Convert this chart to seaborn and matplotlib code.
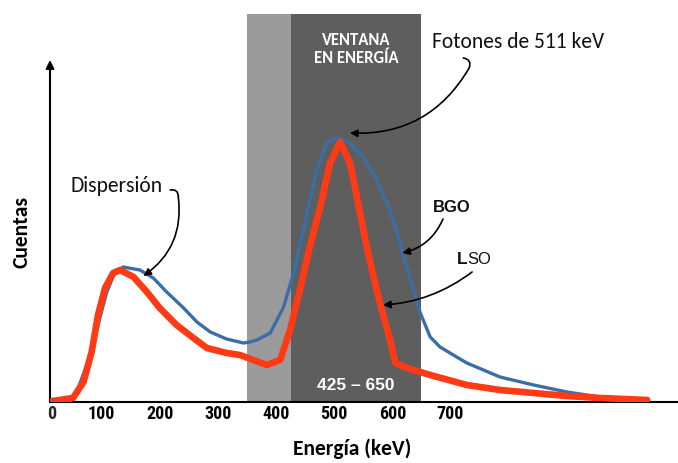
import matplotlib
matplotlib.use("Agg")
import matplotlib.pyplot as plt
import seaborn as sns
import pandas as pd

# ---------------- data ----------------
energy_lso = [15, 28, 51, 69, 83, 94, 106, 120, 132, 155, 178, 200, 229, 258, 281,
              315, 338, 361, 384, 407, 424, 441, 458, 476, 493, 510, 527, 539, 550,
              562, 573, 585, 596, 605, 625, 665, 728, 785, 843, 900, 957, 1038]
counts_lso = [1, 2, 4, 20, 50, 87, 114, 129, 132, 125, 110, 94, 77, 64, 54,
              49, 47, 42, 37, 42, 72, 112, 155, 195, 239, 260, 239, 205, 172,
              139, 112, 85, 62, 39, 34, 27, 17, 12, 9, 6, 4, 2]

energy_bgo = [15, 46, 60, 84, 97, 109, 121, 137, 166, 189, 212, 241, 264, 287, 315,
              344, 355, 367, 390, 413, 430, 447, 459, 470, 487, 504, 527, 550, 573,
              596, 613, 631, 648, 665, 682, 699, 728, 785, 843, 900, 957, 1026]
counts_bgo = [1, 1, 14, 52, 84, 110, 127, 135, 132, 124, 110, 94, 80, 70, 63,
              59, 60, 62, 69, 95, 129, 172, 205, 232, 259, 264, 259, 245, 222,
              192, 159, 122, 89, 65, 55, 49, 39, 25, 17, 10, 5, 1]

window_light = [350, 425]
window_dark = [425, 650]
xticks = [100, 200, 300, 400, 500, 600, 700]

# ---------------- style ----------------
sns.set_theme(style="white")
plt.rcParams["font.family"] = ["Carlito", "DejaVu Sans"]

TICKFONT = ["Roboto Condensed", "DejaVu Sans"]
ARIAL = ["Liberation Sans", "DejaVu Sans"]
RED = "#ff3a14"
BLUE = "#3a6ea8"

fig = plt.figure(figsize=(6.78, 4.63), dpi=100)
ax = fig.add_axes([50 / 678, 61 / 463, 628 / 678, 388 / 463])
ax.set_xlim(11.4, 1091)
ax.set_ylim(0, 388)

ax.axvspan(*window_light, color="#9b9b9b", lw=0, zorder=0)
ax.axvspan(*window_dark, color="#5e5e5e", lw=0, zorder=0)

df_b = pd.DataFrame({"E": energy_bgo, "c": counts_bgo})
df_l = pd.DataFrame({"E": energy_lso, "c": counts_lso})
sns.lineplot(data=df_b, x="E", y="c", sort=False, color=BLUE, linewidth=2.4,
             ax=ax, zorder=3, solid_joinstyle="round", solid_capstyle="round")
sns.lineplot(data=df_l, x="E", y="c", sort=False, color=RED, linewidth=4.8,
             ax=ax, zorder=4, solid_joinstyle="round", solid_capstyle="round")

# spines / axes
for s in ["top", "right", "left"]:
    ax.spines[s].set_visible(False)
ax.spines["bottom"].set_color("black")
ax.spines["bottom"].set_linewidth(1.5)
ax.set_yticks([])
ax.set_xticks(xticks)
ax.set_xticklabels([str(t) for t in xticks])
ax.tick_params(axis="x", length=0, pad=2.5)
for lab in ax.get_xticklabels():
    lab.set_fontfamily(TICKFONT)
    lab.set_fontweight("bold")
    lab.set_fontsize(13)
    lab.set_color("black")
ax.annotate("0", xy=(0.003, 0), xycoords="axes fraction", xytext=(0, -2.5),
            textcoords="offset points", ha="center", va="top",
            fontfamily=TICKFONT, fontweight="bold", fontsize=13)

# y axis arrow
ax.annotate("", xy=(0, 342 / 388), xycoords="axes fraction", xytext=(0, 0),
            arrowprops=dict(arrowstyle="-|>", color="black", lw=1.5,
                            mutation_scale=12, shrinkA=0, shrinkB=0),
            annotation_clip=False)

ax.set_xlabel("Energía (keV)", fontsize=15.5, fontweight="bold", color="black")
ax.xaxis.set_label_coords(302 / 628, -36 / 388)
ax.set_ylabel("Cuentas", fontsize=15.5, fontweight="bold", color="black")
ax.yaxis.set_label_coords(-18 / 628, 170 / 388)

# window texts
mid = (window_dark[0] + window_dark[1]) / 2
ax.text(mid, 353, "VENTANA\nEN ENERGÍA", ha="center", va="center", color="white",
        fontsize=12, fontweight="bold", linespacing=1.15, zorder=5)
ax.text(mid, 17, "425 – 650", ha="center", va="center", color="white",
        fontsize=12.5, fontweight="bold", fontfamily=ARIAL, zorder=5)

# annotations
arrow_kw = dict(arrowstyle="-|>", color="black", lw=1.2, mutation_scale=11,
                shrinkA=0, shrinkB=0)
line_kw = dict(arrowstyle="-", color="black", lw=1.2, shrinkA=0, shrinkB=0)

ax.text(46, 216, "Dispersión", fontsize=15.5, ha="left", va="center", color="#111111")
ax.annotate("", xy=(232, 205), xytext=(218, 212),
            arrowprops=dict(connectionstyle="arc3,rad=-0.6", **line_kw), zorder=6)
ax.annotate("", xy=(172, 126), xytext=(232, 205),
            arrowprops=dict(connectionstyle="arc3,rad=-0.3", **arrow_kw), zorder=6)

ax.text(668, 360, "Fotones de 511 keV", fontsize=15.5, ha="left", va="center",
        color="#111111")
ax.annotate("", xy=(732, 334), xytext=(722, 344),
            arrowprops=dict(connectionstyle="arc3,rad=-0.6", **line_kw), zorder=6)
ax.annotate("", xy=(527, 269), xytext=(732, 334),
            arrowprops=dict(connectionstyle="arc3,rad=-0.3", **arrow_kw), zorder=6)

ax.text(670, 195, "BGO", fontsize=12, fontweight="bold", ha="left", va="center",
        fontfamily=ARIAL, color="#111111")
ax.annotate("", xy=(617, 149), xytext=(687, 183),
            arrowprops=dict(connectionstyle="arc3,rad=-0.25", **arrow_kw), zorder=6)

ax.text(729, 143, "L", fontsize=12.5, fontweight="bold", ha="right", va="center",
        fontfamily=ARIAL, color="#111111")
ax.text(729, 143, "SO", fontsize=12, ha="left", va="center",
        fontfamily=ARIAL, color="#111111")
ax.annotate("", xy=(584, 97), xytext=(737, 130),
            arrowprops=dict(connectionstyle="arc3,rad=-0.15", **arrow_kw), zorder=6)

fig.savefig("out.png", dpi=100)
